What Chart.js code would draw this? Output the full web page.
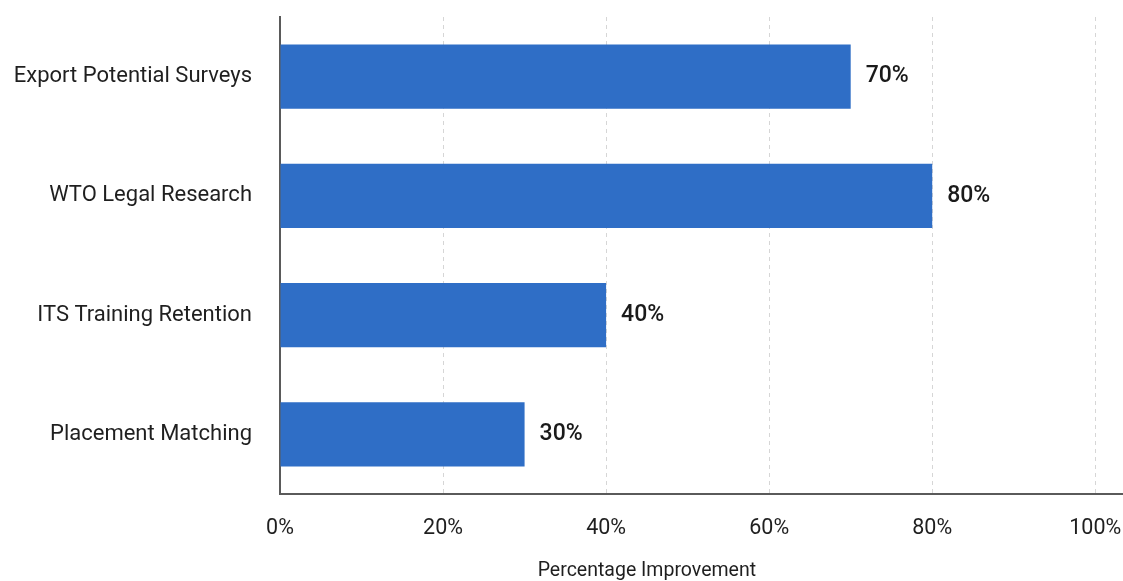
<!DOCTYPE html>
<html>
<head>
<meta charset="utf-8">
<script src="https://cdn.jsdelivr.net/npm/chart.js@4.4.1/dist/chart.umd.min.js"></script>
<style>
  html, body { margin: 0; padding: 0; background: #fff; }
  #wrap { width: 1123px; height: 581px; position: relative; }
</style>
</head>
<body>
<div id="wrap"><canvas id="improvementChart"></canvas></div>
<script>
const categories = ['Export Potential Surveys', 'WTO Legal Research', 'ITS Training Retention', 'Placement Matching'];
const improvement = [70, 80, 40, 30];
const xTicks = [0, 20, 40, 60, 80, 100];
const axisCaption = 'Percentage Improvement';

const FONT = "Roboto, 'Liberation Sans', sans-serif";

// Percent label just past the end of each bar
const barValueLabels = {
    id: 'barValueLabels',
    afterDatasetsDraw(chart) {
        const ctx = chart.ctx;
        const meta = chart.getDatasetMeta(0);
        ctx.save();
        ctx.font = `500 23px ${FONT}`;
        ctx.fillStyle = '#1a1a1a';
        ctx.textAlign = 'left';
        ctx.textBaseline = 'middle';
        meta.data.forEach((bar, i) => {
            ctx.fillText(improvement[i] + '%', bar.x + 15, bar.y);
        });
        ctx.restore();
    }
};

// Axis caption under the tick row, centred on the lower part of the value range
const xCaption = {
    id: 'xCaption',
    afterDraw(chart) {
        const x = chart.scales.x;
        const ctx = chart.ctx;
        const cx = (x.getPixelForValue(0) + x.getPixelForValue(90)) / 2;
        ctx.save();
        ctx.font = `19.5px ${FONT}`;
        ctx.fillStyle = '#1f1f1f';
        ctx.textAlign = 'center';
        ctx.textBaseline = 'middle';
        ctx.fillText(axisCaption, cx, 571);
        ctx.restore();
    }
};

new Chart(document.getElementById('improvementChart'), {
    type: 'bar',
    data: {
        labels: categories,
        datasets: [{
            data: improvement,
            backgroundColor: '#2f6ec6',
            borderWidth: 0,
            barPercentage: 0.54,
            categoryPercentage: 1
        }]
    },
    options: {
        indexAxis: 'y',
        responsive: true,
        maintainAspectRatio: false,
        animation: false,
        layout: { padding: { top: 17, right: 0, left: 0, bottom: 0 } },
        plugins: {
            legend: { display: false },
            tooltip: { enabled: false },
            title: { display: false }
        },
        scales: {
            x: {
                type: 'linear',
                min: 0,
                max: 103.4, // axis runs a little past 100%
                afterBuildTicks: (scale) => {
                    scale.ticks = xTicks.map(v => ({ value: v }));
                },
                afterFit: (scale) => {
                    scale.height = 87;
                    // let the end labels overhang instead of shrinking the plot
                    scale.paddingLeft = 0;
                    scale.paddingRight = 0;
                },
                ticks: {
                    callback: (v) => v + '%',
                    font: { family: FONT, size: 21.5 },
                    color: '#1f1f1f',
                    padding: 22,
                    maxRotation: 0
                },
                grid: {
                    drawTicks: false,
                    color: (ctx) => ctx.tick && ctx.tick.value === 0 ? 'rgba(0,0,0,0)' : '#d6d6d6',
                    lineWidth: 1
                },
                border: { color: '#5a5a5a', width: 2, dash: [4, 4] }
            },
            y: {
                type: 'category',
                afterFit: (scale) => {
                    scale.width = 280;
                    scale.paddingTop = 0;
                    scale.paddingBottom = 0;
                },
                ticks: {
                    font: { family: FONT, size: 22 },
                    color: '#1f1f1f',
                    padding: 28
                },
                grid: { display: false, drawTicks: false },
                border: { display: true, color: '#5a5a5a', width: 2 }
            }
        }
    },
    plugins: [barValueLabels, xCaption]
});
</script>
</body>
</html>
